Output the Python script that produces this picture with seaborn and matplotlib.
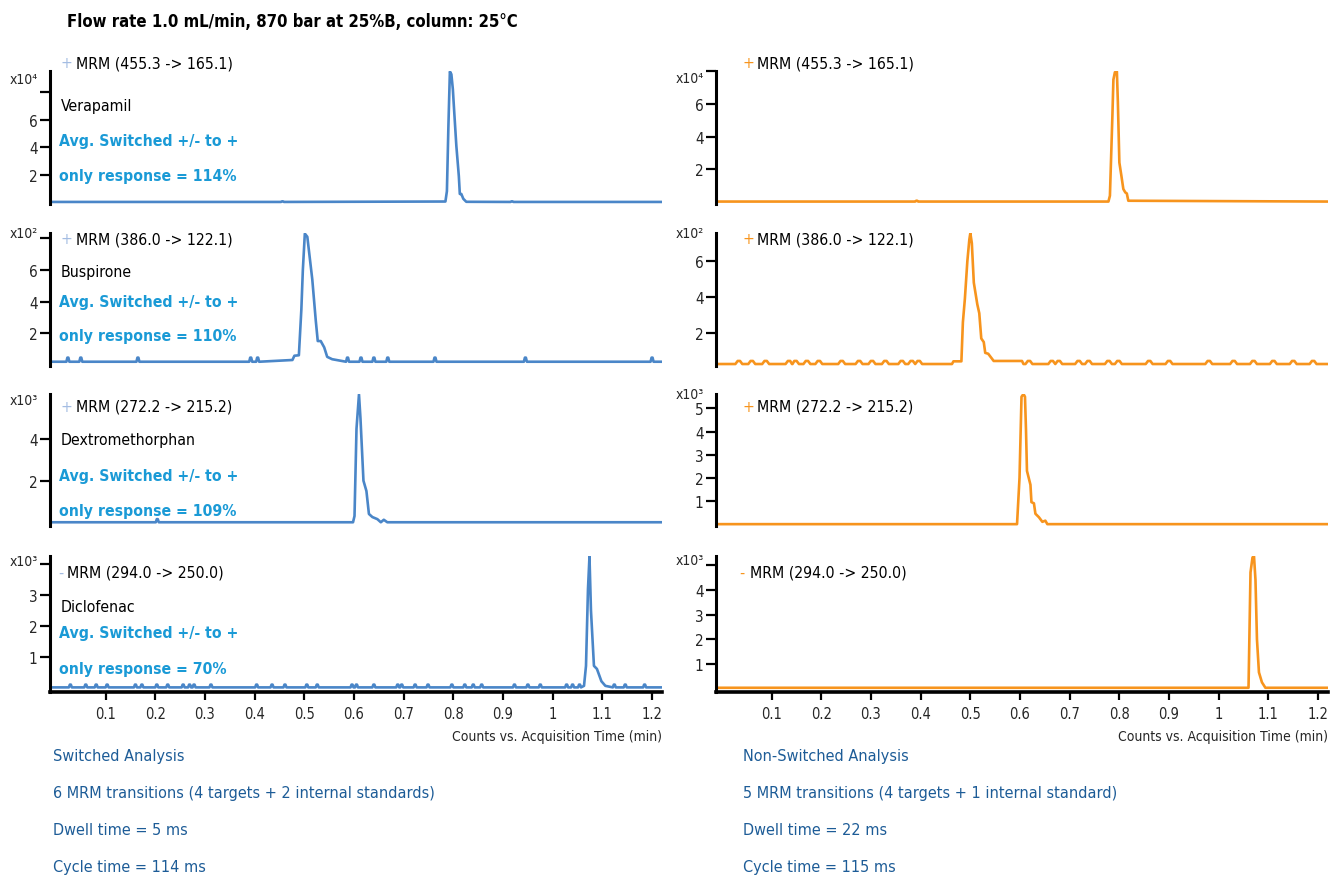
import numpy as np
import pandas as pd
import matplotlib
matplotlib.use("Agg")
import matplotlib.pyplot as plt
from matplotlib import font_manager as fm
import seaborn as sns

# ---- data (y in units of the panel's x10^n) ----
x_start, x_end = -0.012, 1.22

compounds = ["Verapamil", "Buspirone", "Dextromethorphan", "Diclofenac"]
transitions = ["MRM (455.3 -> 165.1)", "MRM (386.0 -> 122.1)",
               "MRM (272.2 -> 215.2)", "MRM (294.0 -> 250.0)"]
polarity = ["+", "+", "+", "-"]
exponents = ["x10⁴", "x10²", "x10³", "x10³"]
responses = ["114%", "110%", "109%", "70%"]

# switched analysis (left column)
verapamil_sw_base = 0.02
verapamil_sw_bump_t = [0.456, 0.918]
verapamil_sw_bump_h = 0.06
verapamil_sw_peak_t = [0.784, 0.787, 0.790, 0.793, 0.796, 0.799, 0.801, 0.806, 0.811, 0.813, 0.816, 0.820, 0.826]
verapamil_sw_peak_y = [0.05, 0.8, 5.5, 9.5, 9.3, 8.2, 7.0, 4.1, 1.9, 0.6, 0.6, 0.25, 0.03]

buspirone_sw_base = 0.19
buspirone_sw_bump_t = [0.024, 0.05, 0.165, 0.392, 0.406, 0.587, 0.614, 0.64, 0.668, 0.763, 0.945, 1.2]
buspirone_sw_bump_h = 0.45
buspirone_sw_peak_t = [0.476, 0.480, 0.489, 0.494, 0.497, 0.501, 0.506, 0.516, 0.523, 0.527, 0.533, 0.540, 0.546, 0.556]
buspirone_sw_peak_y = [0.30, 0.57, 0.6, 3.5, 6.0, 8.3, 8.1, 5.4, 2.8, 1.5, 1.5, 1.1, 0.5, 0.35]

dextro_sw_base = 0.0
dextro_sw_bump_t = [0.204]
dextro_sw_bump_h = 0.15
dextro_sw_peak_t = [0.598, 0.601, 0.605, 0.610, 0.613, 0.619, 0.625, 0.630, 0.637, 0.647, 0.654, 0.660, 0.667]
dextro_sw_peak_y = [0.0, 0.3, 4.5, 6.15, 5.0, 2.0, 1.5, 0.4, 0.25, 0.15, 0.0, 0.12, 0.0]

diclo_sw_base = 0.0
diclo_sw_bump_t = [0.029, 0.06, 0.081, 0.103, 0.16, 0.173, 0.203, 0.225, 0.256, 0.269, 0.278,
                   0.312, 0.404, 0.435, 0.461, 0.505, 0.526, 0.596, 0.605, 0.64, 0.688, 0.696,
                   0.723, 0.749, 0.797, 0.823, 0.84, 0.857, 0.923, 0.95, 0.975, 1.028, 1.04,
                   1.054, 1.124, 1.146, 1.185]
diclo_sw_bump_h = 0.09
diclo_sw_peak_t = [1.063, 1.067, 1.071, 1.074, 1.077, 1.083, 1.089, 1.098, 1.106]
diclo_sw_peak_y = [0.05, 0.7, 3.2, 4.25, 2.5, 0.7, 0.6, 0.2, 0.05]

# non-switched analysis (right column)
verapamil_ns_base = 0.0
verapamil_ns_bump_t = [0.392]
verapamil_ns_bump_h = 0.05
verapamil_ns_peak_t = [0.778, 0.781, 0.786, 0.788, 0.791, 0.795, 0.797, 0.800, 0.804, 0.808, 0.812, 0.815, 0.818]
verapamil_ns_peak_y = [0.0, 0.36, 5.3, 7.5, 7.95, 8.0, 6.1, 2.4, 1.6, 0.77, 0.56, 0.5, 0.05]

buspirone_ns_base = 0.28
buspirone_ns_bump_t = [0.034, 0.06, 0.088, 0.135, 0.148, 0.171, 0.195, 0.241, 0.276, 0.302, 0.329,
                       0.362, 0.382, 0.396, 0.618, 0.664, 0.678, 0.718, 0.738, 0.778, 0.798,
                       0.86, 0.90, 0.98, 1.03, 1.07, 1.11, 1.15, 1.19]
buspirone_ns_bump_h = 0.45
buspirone_ns_peak_t = [0.463, 0.466, 0.482, 0.485, 0.489, 0.494, 0.498, 0.500, 0.503, 0.507, 0.514,
                       0.518, 0.522, 0.527, 0.530, 0.536, 0.547, 0.604, 0.607]
buspirone_ns_peak_y = [0.28, 0.43, 0.43, 2.6, 3.9, 6.0, 7.2, 7.55, 7.0, 4.8, 3.6,
                       3.1, 1.7, 1.5, 0.9, 0.85, 0.45, 0.45, 0.28]

dextro_ns_base = 0.0
dextro_ns_bump_t = []
dextro_ns_bump_h = 0.1
dextro_ns_peak_t = [0.594, 0.599, 0.603, 0.607, 0.610, 0.612, 0.614, 0.621, 0.623, 0.628, 0.631, 0.638, 0.645, 0.651, 0.655]
dextro_ns_peak_y = [0.0, 2.0, 5.5, 5.62, 5.5, 4.1, 2.3, 1.7, 0.95, 0.9, 0.45, 0.3, 0.1, 0.15, 0.0]

diclo_ns_base = 0.05
diclo_ns_bump_t = []
diclo_ns_bump_h = 0.1
diclo_ns_peak_t = [1.060, 1.064, 1.068, 1.071, 1.074, 1.077, 1.081, 1.087, 1.094]
diclo_ns_peak_y = [0.05, 4.7, 5.3, 5.36, 4.4, 2.0, 0.67, 0.27, 0.05]

switched_notes = ["Switched Analysis", "6 MRM transitions (4 targets + 2 internal standards)",
                  "Dwell time = 5 ms", "Cycle time = 114 ms"]
nonswitched_notes = ["Non-Switched Analysis", "5 MRM transitions (4 targets + 1 internal standard)",
                     "Dwell time = 22 ms", "Cycle time = 115 ms"]
title = "Flow rate 1.0 mL/min, 870 bar at 25%B, column: 25°C"

x_ticks = [0.1, 0.2, 0.3, 0.4, 0.5, 0.6, 0.7, 0.8, 0.9, 1.0, 1.1, 1.2]
x_ticklabels = ["0.1", "0.2", "0.3", "0.4", "0.5", "0.6", "0.7", "0.8", "0.9", "1", "1.1", "1.2"]


def build_trace(base, bump_t, bump_h, peak_t, peak_y, half_w=0.003):
    # baseline + noise blips + the peak profile, as one time-ordered trace
    t = [x_start, x_end]
    y = [base, base]
    for b in bump_t:
        t += [b - half_w, b - half_w / 3, b + half_w / 3, b + half_w]
        y += [base, bump_h, bump_h, base]
    t += peak_t
    y += peak_y
    df = pd.DataFrame({"time": t, "counts": y}).sort_values("time")
    return df


left_traces = [
    build_trace(verapamil_sw_base, verapamil_sw_bump_t, verapamil_sw_bump_h, verapamil_sw_peak_t, verapamil_sw_peak_y),
    build_trace(buspirone_sw_base, buspirone_sw_bump_t, buspirone_sw_bump_h, buspirone_sw_peak_t, buspirone_sw_peak_y),
    build_trace(dextro_sw_base, dextro_sw_bump_t, dextro_sw_bump_h, dextro_sw_peak_t, dextro_sw_peak_y),
    build_trace(diclo_sw_base, diclo_sw_bump_t, diclo_sw_bump_h, diclo_sw_peak_t, diclo_sw_peak_y),
]
right_traces = [
    build_trace(verapamil_ns_base, verapamil_ns_bump_t, verapamil_ns_bump_h, verapamil_ns_peak_t, verapamil_ns_peak_y),
    build_trace(buspirone_ns_base, buspirone_ns_bump_t, buspirone_ns_bump_h, buspirone_ns_peak_t, buspirone_ns_peak_y,
                half_w=0.007),
    build_trace(dextro_ns_base, dextro_ns_bump_t, dextro_ns_bump_h, dextro_ns_peak_t, dextro_ns_peak_y),
    build_trace(diclo_ns_base, diclo_ns_bump_t, diclo_ns_bump_h, diclo_ns_peak_t, diclo_ns_peak_y),
]

# ---- style ----
sns.set_style("white")
names = {f.name for f in fm.fontManager.ttflist}
dejavu_cond = any(f.name == "DejaVu Sans" and "Condensed" in f.fname for f in fm.fontManager.ttflist)
if "Liberation Sans Narrow" in names:
    FONT = "Liberation Sans Narrow"
elif dejavu_cond:
    FONT = "DejaVu Sans"
    plt.rcParams["font.stretch"] = "condensed"
else:
    FONT = "Liberation Sans"
plt.rcParams["font.family"] = [FONT, "DejaVu Sans"]

BLUE = "#4a86c8"
ORANGE = "#f7941d"
CYAN = "#1a9ad6"
NAVY = "#1d5c97"
LIGHT_BLUE = "#a3bce2"

W, H = 1330, 878
fig = plt.figure(figsize=(W / 100, H / 100), dpi=100)


def fx(px):
    return px / W


def fy(py):
    return 1 - py / H


col_left = [50, 716]
col_width = 612
row_top = [72, 234, 395, 557]
row_bottom = [205, 367, 527, 693]

left_ylim = [(-0.13, 9.54), (-0.08, 8.34), (-0.18, 6.17), (-0.15, 4.27)]
right_ylim = [(-0.15, 8.03), (0.17, 7.56), (-0.08, 5.62), (-0.12, 5.36)]
left_yticks = [[2, 4, 6, 8], [2, 4, 6, 8], [2, 4], [1, 2, 3, 4]]
left_ylabels = [["2", "4", "6", ""], ["2", "4", "6", ""], ["2", "4"], ["1", "2", "3", ""]]
right_yticks = [[2, 4, 6, 8], [2, 4, 6], [1, 2, 3, 4, 5], [1, 2, 3, 4, 5]]
right_ylabels = [["2", "4", "6", ""], ["2", "4", "6"], ["1", "2", "3", "4", "5"], ["1", "2", "3", "4", ""]]
left_exp_y = [80, 234, 401, 562]
right_exp_y = [79, 234, 395, 561]

TXT = 11.3

for c, (traces, color, ylims, yticks, ylabels, exp_y) in enumerate([
        (left_traces, BLUE, left_ylim, left_yticks, left_ylabels, left_exp_y),
        (right_traces, ORANGE, right_ylim, right_yticks, right_ylabels, right_exp_y)]):
    for r in range(4):
        x0 = col_left[c]
        ax = fig.add_axes([fx(x0), fy(row_bottom[r]), fx(col_width), (row_bottom[r] - row_top[r]) / H])
        sns.lineplot(data=traces[r], x="time", y="counts", ax=ax, color=color,
                     linewidth=1.9, sort=False, estimator=None)
        ax.set_xlim(x_start, x_end)
        ax.set_ylim(*ylims[r])
        ax.set_yticks(yticks[r], ylabels[r])
        ax.set_xlabel("")
        ax.set_ylabel("")
        ax.tick_params(axis="y", direction="out", length=7, width=1.6, color="black",
                       labelsize=11, pad=2, left=True)
        for s in ["top", "right"]:
            ax.spines[s].set_visible(False)
        ax.spines["left"].set_linewidth(2.2)
        ax.spines["left"].set_color("black")
        if r == 3:
            ax.spines["bottom"].set_linewidth(2.6)
            ax.spines["bottom"].set_color("black")
            ax.set_xticks(x_ticks, x_ticklabels)
            ax.tick_params(axis="x", direction="out", length=6, width=1.6, color="black",
                           labelsize=10.5, pad=4, bottom=True)
            ax.set_xlabel("Counts vs. Acquisition Time (min)", loc="right", fontsize=10, labelpad=6)
        else:
            ax.spines["bottom"].set_visible(False)
            ax.set_xticks([])
        ax.patch.set_alpha(0)
        # exponent label at the top of the axis
        fig.text(fx(x0 - 12), fy(exp_y[r]), exponents[r], ha="right", va="center", fontsize=10)

# ---- annotations ----
mrm_y = [64, 240, 407, 573]
for r in range(4):
    sign = polarity[r]
    if sign == "+":
        lx, ltx, rx, rtx = 61, 76, 742, 757
    else:
        lx, ltx, rx, rtx = 58, 67, 739, 750
    fig.text(fx(lx), fy(mrm_y[r]), sign, color=LIGHT_BLUE, fontsize=TXT, ha="left", va="center")
    fig.text(fx(ltx), fy(mrm_y[r]), transitions[r], color="black", fontsize=TXT, ha="left", va="center")
    fig.text(fx(rx), fy(mrm_y[r]), sign, color=ORANGE, fontsize=TXT, ha="left", va="center")
    fig.text(fx(rtx), fy(mrm_y[r]), transitions[r], color="black", fontsize=TXT, ha="left", va="center")

name_y = [106, 272, 441, 607]
avg_y = [142, 302, 477, 634]
resp_y = [176, 336, 512, 670]
for r in range(4):
    fig.text(fx(61), fy(name_y[r]), compounds[r], color="black", fontsize=TXT, ha="left", va="center")
    fig.text(fx(59), fy(avg_y[r]), "Avg. Switched +/- to +", color=CYAN, fontsize=TXT,
             fontweight="bold", ha="left", va="center")
    fig.text(fx(59), fy(resp_y[r]), "only response = " + responses[r], color=CYAN, fontsize=TXT,
             fontweight="bold", ha="left", va="center")

fig.text(fx(67), fy(22), title, fontsize=12, fontweight="bold", ha="left", va="center", color="black")

note_y = [757, 794, 831, 868]
for i in range(4):
    fig.text(fx(53), fy(note_y[i]), switched_notes[i], color=NAVY, fontsize=11.6, ha="left", va="center")
    fig.text(fx(743), fy(note_y[i]), nonswitched_notes[i], color=NAVY, fontsize=11.6, ha="left", va="center")

fig.savefig("out.png", dpi=100)
